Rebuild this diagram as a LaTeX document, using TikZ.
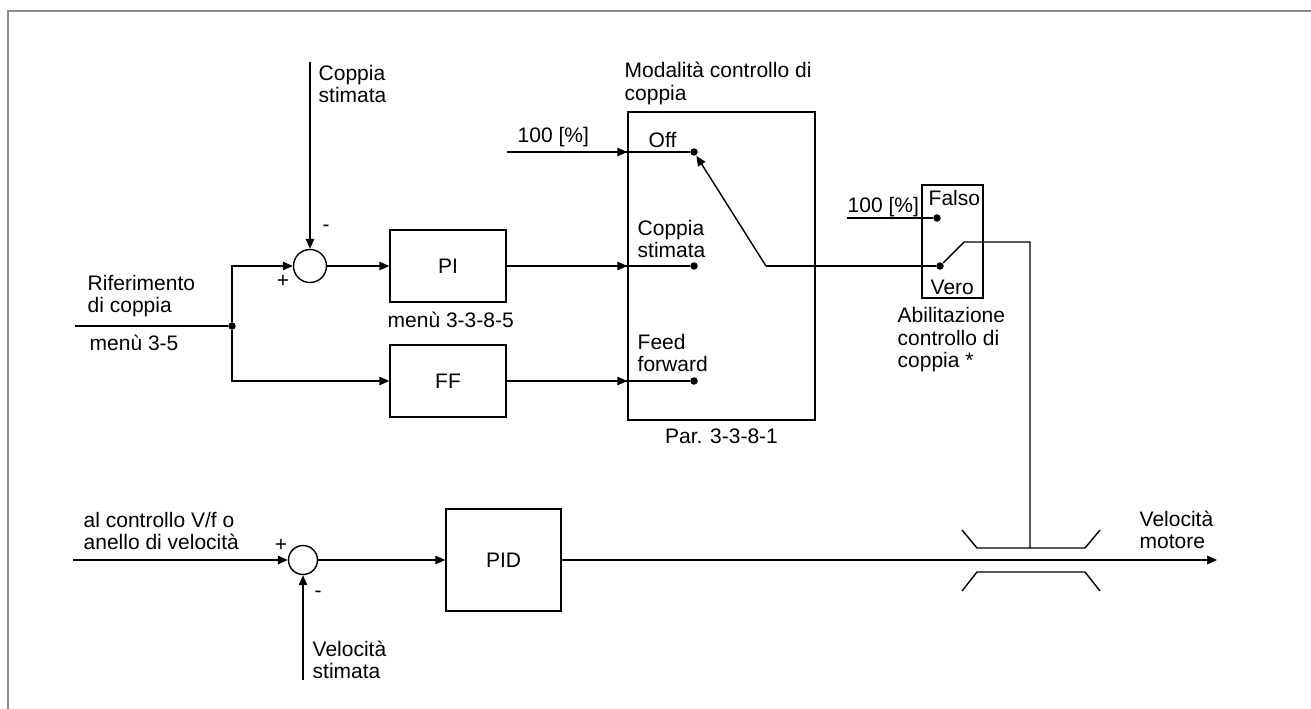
\documentclass[tikz,border=0pt]{standalone}
\usepackage{fontspec}
\setmainfont{Liberation Sans}
\usetikzlibrary{arrows.meta, positioning}
\definecolor{framegray}{RGB}{140, 140, 140}

\begin{document}
\begin{tikzpicture}[
  x=1pt, y=-1pt,
  every path/.style={line width=1.4pt},
  txt/.style={inner sep=0pt, align=left, font=\fontsize{21}{22.5}\selectfont},
  block/.style={draw, line width=1.4pt, inner sep=0pt, font=\fontsize{21}{22.5}\selectfont},
  sumnode/.style={draw, circle, inner sep=0pt, line width=1.4pt},
  dot/.style={circle, fill, inner sep=0pt, minimum size=7.5pt},
  arr/.style={-{Triangle[length=10pt, width=8.5pt]}}
]
\useasboundingbox (0,0) rectangle (1311,709);
\draw[framegray, line width=1.8pt] (8,709) -- (8,11) -- (1311,11);

% torque loop
\node[sumnode, minimum size=33pt] (sumT) at (310,266) {};
\node[block, minimum width=116pt, minimum height=72pt] (pi) at (448,266) {PI};
\node[block, minimum width=116pt, minimum height=72pt] (ff) at (448,381) {FF};
\node[dot] (split) at (232,326) {};
\coordinate (refin) at (75,326);
\coordinate (cstop) at (310,62);

\node[txt, anchor=west] (cslbl) at (318,84) {Coppia\\stimata};
\node[txt, anchor=west] (reflbl) at (87,296) {Riferimento\\di coppia};
\node[txt, anchor=west] (refmenu) at (89,343) {menù 3-5};
\node[txt, anchor=west] (pimenu) at (387,320) {menù 3-3-8-5};
\node[txt] (minT) at (326,228) {-};
\node[txt] (plusT) at (283,281) {+};

% mode selector
\node[draw, minimum width=187pt, minimum height=308pt] (mode) at (721.5,266) {};
\node[txt, anchor=west] (modelbl) at (624,83.5) {Modalità controllo di\\coppia};
\node[txt, below=7pt of mode] (modepar) {Par. 3-3-8-1};
\node[dot] (off) at (694,152) {};
\node[dot] (cst) at (694,266) {};
\node[dot] (ffd) at (694,381) {};
\coordinate (pivot) at (766,266);
\coordinate (hundred) at (507,152);
\node[txt, anchor=west] (hundredlbl) at (517,137) {100 [\%]};
\node[txt, anchor=west] (offlbl) at (648,140) {Off};
\node[txt, anchor=west] (cstlbl) at (637,239) {Coppia\\stimata};
\node[txt, anchor=west] (fflbl) at (637,353) {Feed\\forward};

% enable switch
\node[draw, minimum width=61pt, minimum height=113pt] (enable) at (952.5,241.5) {};
\node[dot] (falso) at (937,218) {};
\node[dot] (vero) at (940,266) {};
\coordinate (hundredB) at (847,218);
\coordinate (swtip) at (964,242);
\coordinate (brkin) at (1030,242);
\coordinate (brktop) at (1030,548);
\node[txt, anchor=west] (falsolbl) at (928,198) {Falso};
\node[txt, anchor=west] (verolbl) at (930,287) {Vero};
\node[txt, anchor=west] (hundredBlbl) at (847,207) {100 [\%]};
\node[txt, anchor=west] (enablelbl) at (897,340) {Abilitazione\\controllo di\\coppia *};

% speed loop
\node[sumnode, minimum size=29pt] (sumS) at (303,560) {};
\node[block, minimum width=115pt, minimum height=102pt] (pid) at (503.5,560) {PID};
\coordinate (vfin) at (73,560);
\coordinate (vsin) at (303,680);
\coordinate (vout) at (1217,560);
\node[txt, anchor=west] (vflbl) at (83,531) {al controllo V/f o\\anello di velocità};
\node[txt, anchor=west] (vslbl) at (312,660) {Velocità\\stimata};
\node[txt, anchor=west] (voutlbl) at (1139,530) {Velocità\\motore};
\node[txt] (plusS) at (281,545) {+};
\node[txt] (minS) at (318,594) {-};

\draw[arr] (cstop) -- (sumT.north);
\draw (refin) -- (split);
\draw[arr] (split) |- (sumT.west);
\draw[arr] (split) |- (ff.west);
\draw[arr] (sumT) -- (pi);
\draw (pi) -- (cst);
\draw[arr] (pi) -- (mode.west |- pi);
\draw (ff) -- (ffd);
\draw[arr] (ff) -- (mode.west |- ff);
\draw (hundred) -- (off);
\draw[arr] (hundred) -- (mode.west |- off);
\draw[arr] (pivot) -- (off);
\draw (pivot) -- (vero);
\draw (hundredB) -- (falso);
\draw (vero) -- (swtip) -- (brkin) -- (brktop);

% brake
\draw (962,530) -- (977,548) -- (1085,548) -- (1100,530);
\draw (962,591) -- (977,572) -- (1085,572) -- (1100,591);

\draw[arr] (vfin) -- (sumS.west);
\draw[arr] (vsin) -- (sumS.south);
\draw[arr] (sumS) -- (pid);
\draw[arr] (pid) -- (vout);
\end{tikzpicture}
\end{document}
